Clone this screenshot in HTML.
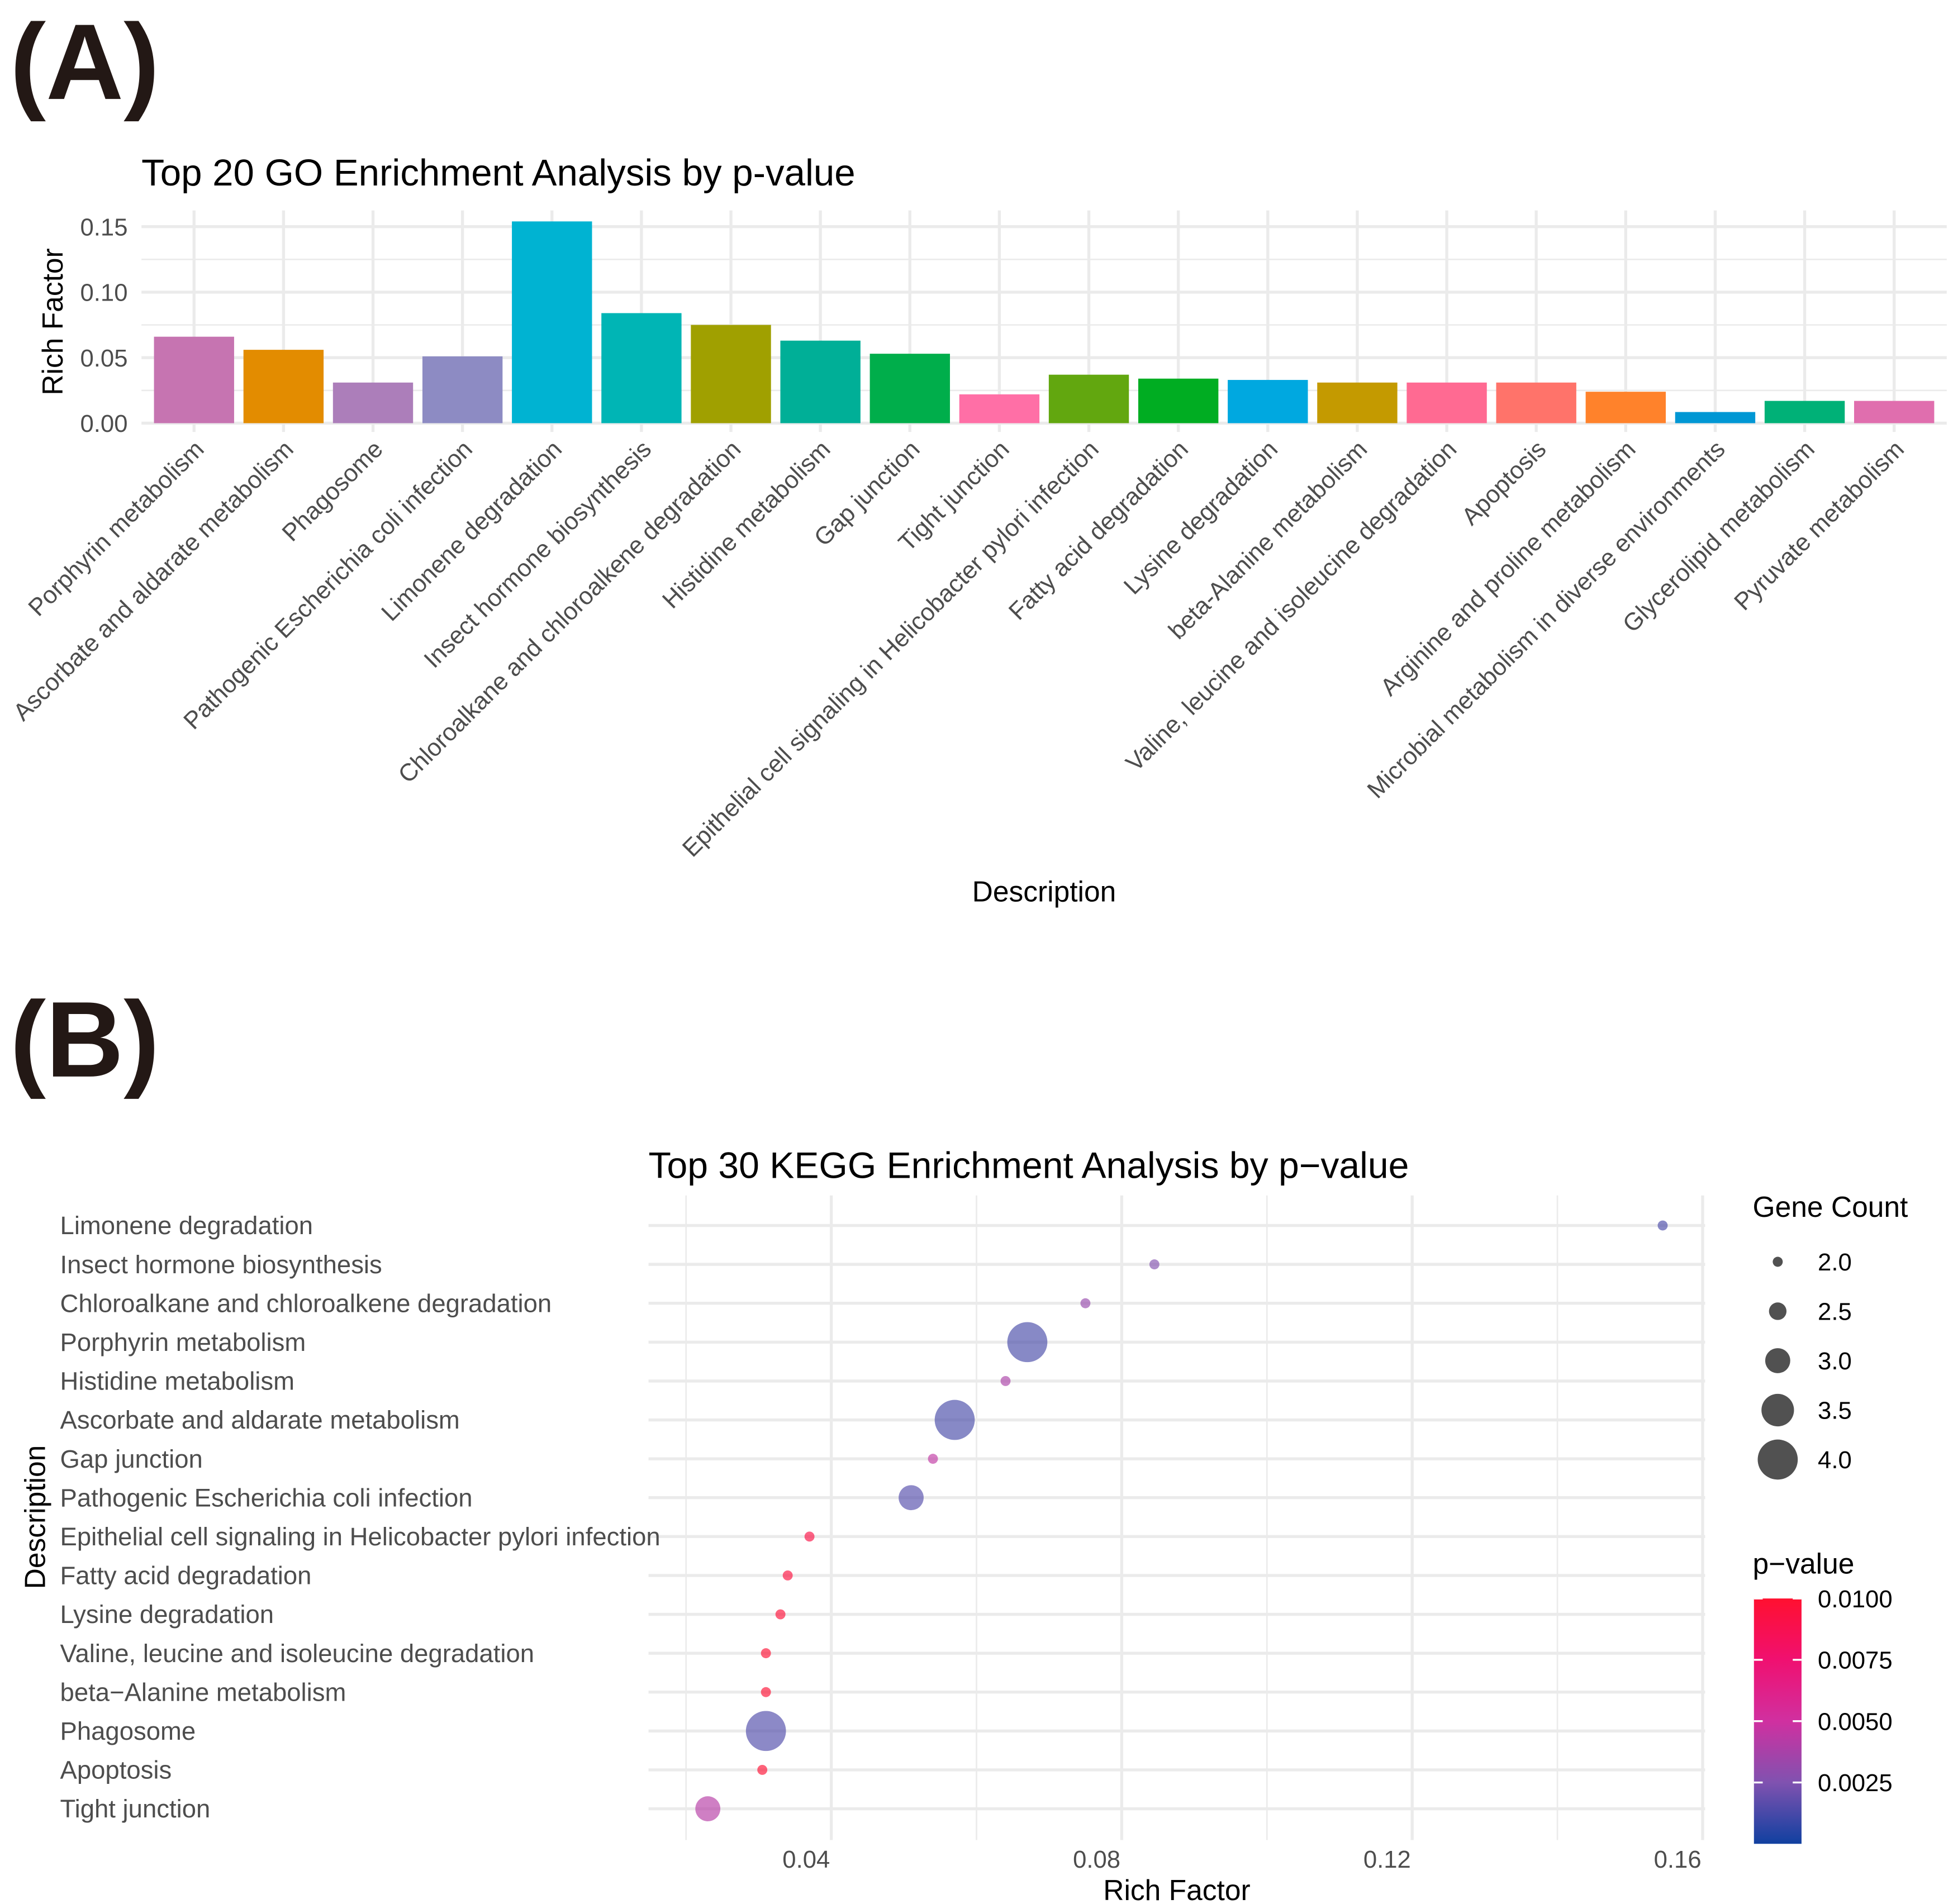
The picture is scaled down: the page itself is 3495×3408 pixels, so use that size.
<!DOCTYPE html>
<html><head><meta charset="utf-8"><style>
html,body{margin:0;padding:0;background:#fff}
svg{display:block}
text{font-family:"Liberation Sans",Arial,sans-serif}
</style></head><body>
<svg id="fig" width="3495" height="3408" viewBox="0 0 1560 1521" xmlns="http://www.w3.org/2000/svg">
<rect width="1560" height="1521" fill="#fff"/>
<g id="pa"></g>
<g id="pb"></g>
</svg>
<script>
// ---------- Panel A data ----------
const goCategories = ["Porphyrin metabolism","Ascorbate and aldarate metabolism","Phagosome","Pathogenic Escherichia coli infection","Limonene degradation","Insect hormone biosynthesis","Chloroalkane and chloroalkene degradation","Histidine metabolism","Gap junction","Tight junction","Epithelial cell signaling in Helicobacter pylori infection","Fatty acid degradation","Lysine degradation","beta-Alanine metabolism","Valine, leucine and isoleucine degradation","Apoptosis","Arginine and proline metabolism","Microbial metabolism in diverse environments","Glycerolipid metabolism","Pyruvate metabolism"];
const goValues = [0.066,0.056,0.031,0.051,0.154,0.084,0.075,0.063,0.053,0.022,0.037,0.034,0.033,0.031,0.031,0.031,0.024,0.0085,0.017,0.017];
const goColors = ["#C674B1","#E38C00","#AC7EBA","#8D8BC3","#00B3D2","#00B5B5","#A0A000","#00AF97","#00AE4B","#FF6FA6","#62A70F","#00AD22","#00A8E0","#C49A00","#FF6A92","#FF736A","#FF822B","#0097D4","#00B177","#E06EAE"];
const goTicks = [0,0.05,0.10,0.15];
const goTickLabels = ["0.00","0.05","0.10","0.15"];

// ---------- Panel B data ----------
const keggCategories = ["Limonene degradation","Insect hormone biosynthesis","Chloroalkane and chloroalkene degradation","Porphyrin metabolism","Histidine metabolism","Ascorbate and aldarate metabolism","Gap junction","Pathogenic Escherichia coli infection","Epithelial cell signaling in Helicobacter pylori infection","Fatty acid degradation","Lysine degradation","Valine, leucine and isoleucine degradation","beta\u2212Alanine metabolism","Phagosome","Apoptosis","Tight junction"];
const keggRich = [0.1545,0.0845,0.075,0.067,0.064,0.057,0.054,0.051,0.037,0.034,0.033,0.031,0.031,0.031,0.0305,0.023];
const keggCount = [2,2,2,4,2,4,2,3,2,2,2,2,2,4,2,3];
const keggP = [0.0013,0.0026,0.0032,0.0012,0.0038,0.0012,0.0045,0.0015,0.0092,0.0095,0.0097,0.0099,0.0099,0.0014,0.0099,0.0042];
const keggTicks = [0.04,0.08,0.12,0.16];
const keggTickLabels = ["0.04","0.08","0.12","0.16"];
const sizeLegend = [2.0,2.5,3.0,3.5,4.0];
const sizeLegendLabels = ["2.0","2.5","3.0","3.5","4.0"];
const pLegend = [0.0025,0.005,0.0075,0.01];
const pLegendLabels = ["0.0025","0.0050","0.0075","0.0100"];

const NS="http://www.w3.org/2000/svg";
function mk(parent,tag,attrs,txt){const e=document.createElementNS(NS,tag);for(const k in attrs)e.setAttribute(k,attrs[k]);if(txt!==undefined)e.textContent=txt;parent.appendChild(e);return e;}

// ===== Panel A =====
const pa=document.getElementById('pa');
let t=mk(pa,'text',{x:8,y:79,'font-size':86,'font-weight':'bold',fill:'#231815'},'(A)');


t=mk(pa,'text',{x:113,y:148,'font-size':30,fill:'#000'},'Top 20 GO Enrichment Analysis by p-value');


const aY0=338, aPerUnit=(338-181)/0.15;
const ay=v=>aY0-v*aPerUnit;
const aX0=155, aStep=(1513-155)/19, aBW=64;
const ax=i=>aX0+i*aStep;
const aLeft=113, aRight=1555, aTop=168, aBot=345;
for(let i=0;i<3;i++){const v=0.025+i*0.05;let l=mk(pa,'line',{x1:aLeft,x2:aRight,y1:ay(v),y2:ay(v),stroke:'#EBEBEB','stroke-width':1.2});

}
goTicks.forEach((v,i)=>{let l=mk(pa,'line',{x1:aLeft,x2:aRight,y1:ay(v),y2:ay(v),stroke:'#EBEBEB','stroke-width':2.4});


let tx=mk(pa,'text',{x:102,y:ay(v)+7,'font-size':19.5,fill:'#4D4D4D','text-anchor':'end'},goTickLabels[i]);

});
goCategories.forEach((c,i)=>{let l=mk(pa,'line',{x1:ax(i),x2:ax(i),y1:aTop,y2:aBot,stroke:'#EBEBEB','stroke-width':2.4});

});
goCategories.forEach((c,i)=>{
 let r=mk(pa,'rect',{x:ax(i)-aBW/2,y:ay(goValues[i]),width:aBW,height:aY0-ay(goValues[i]),fill:goColors[i]});
 
 
 let tx=mk(pa,'text',{x:0,y:0,'font-size':19.5,fill:'#4D4D4D','text-anchor':'end',transform:`translate(${ax(i)+9},${360}) rotate(-45)`},c);
 
 
});
t=mk(pa,'text',{x:834,y:720,'font-size':23,fill:'#000','text-anchor':'middle'},'Description');


t=mk(pa,'text',{x:0,y:0,'font-size':23,fill:'#000','text-anchor':'middle',transform:'translate(50,257) rotate(-90)'},'Rich Factor');



// ===== Panel B =====
const pb=document.getElementById('pb');
t=mk(pb,'text',{x:8,y:860,'font-size':86,'font-weight':'bold',fill:'#231815'},'(B)');


t=mk(pb,'text',{x:518,y:941,'font-size':29.5,fill:'#000'},'Top 30 KEGG Enrichment Analysis by p\u2212value');


const bx=v=>664+(v-0.04)*(232/0.04);
const by=i=>979+i*((1445-979)/15);
const bLeft=518,bRight=1362,bTop=955,bBot=1470;
for(let k=0;k<4;k++){const v=0.02+k*0.04;let l=mk(pb,'line',{x1:bx(v),x2:bx(v),y1:bTop,y2:bBot,stroke:'#EBEBEB','stroke-width':1.2});

}
keggTicks.forEach((v,i)=>{let l=mk(pb,'line',{x1:bx(v),x2:bx(v),y1:bTop,y2:bBot,stroke:'#EBEBEB','stroke-width':2.4});


let tx=mk(pb,'text',{x:bx(v)-20,y:1492,'font-size':19.5,fill:'#4D4D4D','text-anchor':'middle'},keggTickLabels[i]);

});
keggCategories.forEach((c,i)=>{let l=mk(pb,'line',{x1:bLeft,x2:bRight,y1:by(i),y2:by(i),stroke:'#EBEBEB','stroke-width':2.4});


let tx=mk(pb,'text',{x:48,y:by(i)+7,'font-size':20.3,fill:'#4D4D4D'},c);

});
const stops=[[0,[16,64,160]],[0.0025,[128,82,176]],[0.005,[208,48,160]],[0.0075,[240,16,112]],[0.01,[255,16,48]]];
function pcol(p){for(let k=1;k<stops.length;k++){if(p<=stops[k][0]||k==stops.length-1){const a=stops[k-1],b=stops[k];const f=Math.max(0,Math.min(1,(p-a[0])/(b[0]-a[0])));const c=a[1].map((x,j)=>Math.round(x+(b[1][j]-x)*f));return `rgb(${c})`;}}}
const rad=n=>4+(n-2)*6;
keggCategories.forEach((c,i)=>{
 let ci=mk(pb,'circle',{cx:bx(keggRich[i]),cy:by(i),r:rad(keggCount[i]),fill:pcol(keggP[i]),'fill-opacity':0.65});
 
 
});
t=mk(pb,'text',{x:940,y:1518,'font-size':23,fill:'#000','text-anchor':'middle'},'Rich Factor');


t=mk(pb,'text',{x:0,y:0,'font-size':23,fill:'#000','text-anchor':'middle',transform:'translate(36,1212) rotate(-90)'},'Description');


t=mk(pb,'text',{x:1400,y:972,'font-size':23,fill:'#000'},'Gene Count');


sizeLegend.forEach((n,i)=>{const y=1008+i*39.5;
 let ci=mk(pb,'circle',{cx:1420,cy:y,r:rad(n),fill:'#333','fill-opacity':0.85});
 
 
 let tx=mk(pb,'text',{x:1452,y:y+7,'font-size':19.5,fill:'#000'},sizeLegendLabels[i]);
 
 });
t=mk(pb,'text',{x:1400,y:1257,'font-size':23,fill:'#000'},'p\u2212value');


const defs=mk(pb,'defs',{});
const g=mk(defs,'linearGradient',{id:'pg',x1:0,y1:1,x2:0,y2:0});
stops.forEach(s=>mk(g,'stop',{offset:s[0]/0.01,'stop-color':`rgb(${s[1]})`}));
const cy=p=>1473-p*(196/0.01);
let cb=mk(pb,'rect',{x:1401,y:cy(0.01),width:38,height:196,fill:'url(#pg)'});


pLegend.forEach((p,i)=>{
 mk(pb,'line',{x1:1401,x2:1408,y1:cy(p),y2:cy(p),stroke:'#fff','stroke-width':1.5});
 mk(pb,'line',{x1:1432,x2:1439,y1:cy(p),y2:cy(p),stroke:'#fff','stroke-width':1.5});
 let tx=mk(pb,'text',{x:1452,y:cy(p)+7,'font-size':19.5,fill:'#000'},pLegendLabels[i]);
 
 });
</script>
</body></html>
